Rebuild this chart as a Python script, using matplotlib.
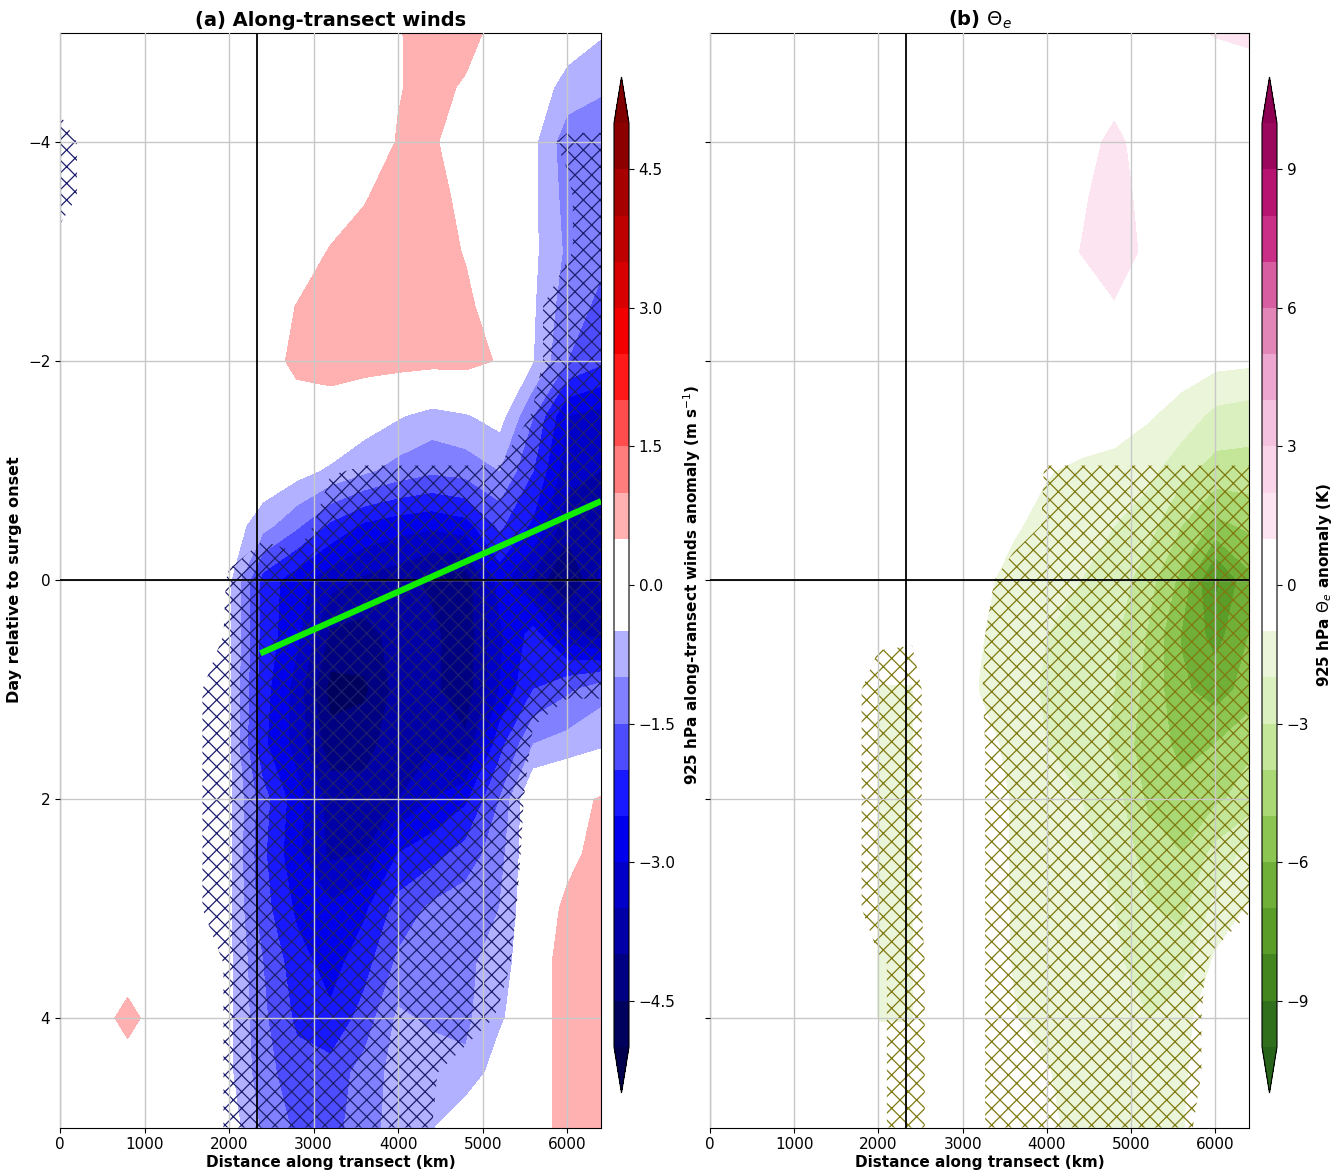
import numpy as np
import matplotlib
matplotlib.use("Agg")
import matplotlib.pyplot as plt
import matplotlib.colors as mcolors

# ---------------- data ----------------
dist_km = [0, 400, 800, 1200, 1600, 2000, 2400, 2800, 3200, 3600, 4000,
           4400, 4800, 5200, 5600, 6000, 6400]
day_rel = [-5, -4.5, -4, -3.5, -3, -2.5, -2, -1.5, -1, -0.5, 0,
           0.5, 1, 1.5, 2, 2.5, 3, 3.5, 4, 4.5, 5]

# 925 hPa along-transect wind anomaly (m s-1), rows = day_rel, cols = dist_km
wind_anom = [
    [0, 0, 0, 0, 0, 0, 0, 0, 0, 0.1, 0.45, 0.8, 0.8, 0.2, -0.1, -0.2, -0.45],
    [0, 0, 0, 0, 0, 0, 0, 0, 0, 0.1, 0.45, 0.75, 0.4, 0.0, -0.2, -0.7, -0.9],
    [0, 0, 0, 0, 0, 0, 0, 0, 0, 0, 0.55, 0.6, 0.1, -0.05, -0.4, -1.3, -1.5],
    [0, 0, 0, 0, 0, 0, 0, 0, 0.1, 0.45, 0.8, 0.75, 0.3, -0.05, -0.4, -1.2, -1.4],
    [0, 0, 0, 0, 0, 0, 0, 0.1, 0.55, 0.75, 0.8, 0.8, 0.45, 0, -0.4, -1.1, -1.4],
    [0, 0, 0, 0, 0, 0, 0.1, 0.52, 0.75, 0.8, 0.8, 0.75, 0.65, 0.1, -0.45, -1.3, -1.6],
    [0, 0, 0, 0, 0, 0, 0.2, 0.65, 0.75, 0.8, 0.75, 0.7, 0.7, 0.45, -0.5, -1.5, -1.9],
    [0, 0, 0, 0, 0, 0, 0, 0.2, 0.2, -0.2, -0.45, -0.7, -0.55, -0.3, -1.5, -3.0, -3.2],
    [0, 0, 0, 0, 0, 0, -0.1, -0.3, -0.6, -0.9, -1.2, -1.4, -1.3, -1.0, -2.0, -3.3, -3.5],
    [0, 0, 0, 0, 0, -0.2, -0.8, -1.4, -2.1, -2.6, -2.8, -2.9, -2.7, -1.9, -2.6, -3.8, -3.6],
    [0, 0, 0, 0, 0, -0.4, -2.2, -2.8, -3.3, -3.6, -3.8, -4.1, -4.3, -2.8, -3.6, -4.6, -3.4],
    [0, 0, 0, 0, 0, -0.4, -2.2, -2.9, -4.1, -4.2, -3.8, -3.9, -4.3, -3.1, -2.3, -3.3, -3.7],
    [0, 0, 0, 0, 0, -0.4, -2.3, -3.2, -4.7, -4.6, -3.8, -3.9, -4.3, -3.0, -2.0, -1.6, -1.2],
    [0, 0, 0, 0, 0, -0.4, -2.4, -3.2, -4.3, -4.2, -3.7, -3.6, -3.9, -2.2, -1.0, -0.8, -0.6],
    [0, 0, 0, 0, 0, -0.4, -1.8, -2.8, -3.7, -3.8, -3.5, -3.0, -2.6, -1.5, 0.1, 0.3, 0.55],
    [0, 0, 0, 0, 0, -0.4, -1.9, -2.9, -3.6, -3.5, -2.5, -2.2, -1.8, -1.2, 0, 0.3, 0.75],
    [0, 0, 0, 0, 0, -0.4, -1.8, -2.6, -2.9, -2.6, -1.8, -1.4, -1.2, -1.0, 0, 0.65, 0.8],
    [0, 0, 0, 0, 0, -0.4, -1.5, -2.3, -2.7, -2.2, -1.4, -1.0, -1.1, -0.8, 0, 0.9, 0.8],
    [0, 0, 0.8, 0, 0, -0.4, -1.4, -2.1, -2.4, -1.8, -0.9, -1.1, -1.1, -0.6, 0, 0.9, 0.8],
    [0, 0, 0, 0, 0, -0.4, -1.3, -1.8, -1.8, -1.3, -0.8, -0.7, -0.9, -0.2, 0, 0.9, 0.8],
    [0, 0, 0, 0, 0, -0.2, -1.1, -1.6, -1.7, -1.2, -0.8, -0.55, 0, 0, 0, 0.9, 0.8],
]

# significance of wind anomaly (>= 0.5 means significant)
wind_sig = [
    [0, 0, 0, 0, 0, 0, 0, 0, 0, 0, 0, 0, 0, 0, 0, 0, 0],
    [0, 0, 0, 0, 0, 0, 0, 0, 0, 0, 0, 0, 0, 0, 0, 0, 0],
    [1, 0, 0, 0, 0, 0, 0, 0, 0, 0, 0, 0, 0, 0, 0.3, 0.6, 0.6],
    [1, 0, 0, 0, 0, 0, 0, 0, 0, 0, 0, 0, 0, 0, 0, 0.4, 1],
    [0, 0, 0, 0, 0, 0, 0, 0, 0, 0, 0, 0, 0, 0, 0, 0.4, 1],
    [0, 0, 0, 0, 0, 0, 0, 0, 0, 0, 0, 0, 0, 0, 0.3, 1, 1],
    [0, 0, 0, 0, 0, 0, 0, 0, 0, 0, 0, 0, 0, 0, 0.3, 1, 1],
    [0, 0, 0, 0, 0, 0, 0, 0, 0, 0, 0, 0, 0, 0, 0.55, 1, 1],
    [0, 0, 0, 0, 0, 0, 0, 0, 0.45, 0.55, 0.55, 0.55, 0.55, 0.55, 1, 1, 1],
    [0, 0, 0, 0, 0, 0.3, 0.3, 0, 1, 1, 1, 1, 1, 1, 1, 1, 1],
    [0, 0, 0, 0, 0, 0.55, 1, 1, 1, 1, 1, 1, 1, 1, 1, 1, 1],
    [0, 0, 0, 0, 0, 0.6, 1, 1, 1, 1, 1, 1, 1, 1, 1, 1, 1],
    [0, 0, 0, 0, 0.365, 1, 1, 1, 1, 1, 1, 1, 1, 1, 0.6, 0.6, 0.6],
    [0, 0, 0, 0, 0.365, 1, 1, 1, 1, 1, 1, 1, 1, 1, 0.45, 0, 0],
    [0, 0, 0, 0, 0.365, 1, 1, 1, 1, 1, 1, 1, 1, 1, 0.3, 0, 0],
    [0, 0, 0, 0, 0.365, 1, 1, 1, 1, 1, 1, 1, 1, 1, 0.2, 0, 0],
    [0, 0, 0, 0, 0.365, 1, 1, 1, 1, 1, 1, 1, 1, 1, 0, 0, 0],
    [0, 0, 0, 0, 0, 0.6, 1, 1, 1, 1, 1, 1, 1, 0.75, 0, 0, 0],
    [0, 0, 0, 0, 0, 0.6, 1, 1, 1, 1, 1, 1, 1, 0.4, 0, 0, 0],
    [0, 0, 0, 0, 0, 0.6, 1, 1, 1, 1, 1, 0.6, 0, 0, 0, 0, 0],
    [0, 0, 0, 0, 0, 0.6, 1, 1, 1, 1, 1, 0.5, 0, 0, 0, 0, 0],
]

# 925 hPa theta-e anomaly (K)
theta_anom = [
    [0, 0, 0, 0, 0, 0, 0, 0, 0, 0, 0, 0, 0, 0, 0.6, 1.1, 1.4],
    [0, 0, 0, 0, 0, 0, 0, 0, 0, 0, 0, 0, 0.5, 0, 0, 0, 0],
    [0, 0, 0, 0, 0, 0, 0, 0, 0, 0, 0, 0.5, 1.3, 0.4, 0, 0, 0],
    [0, 0, 0, 0, 0, 0, 0, 0, 0, 0, 0, 0.8, 1.6, 0.5, 0, 0, 0],
    [0, 0, 0, 0, 0, 0, 0, 0, 0, 0, 0.2, 1.02, 1.7, 0.7, 0, 0, 0],
    [0, 0, 0, 0, 0, 0, 0, 0, 0, 0, 0, 0.5, 0.9, 0.3, 0, 0, 0],
    [0, 0, 0, 0, 0, 0, 0, 0, 0, 0, 0, 0, 0, 0, -0.5, -0.7, -0.8],
    [0, 0, 0, 0, 0, 0, 0, 0, 0, 0, 0, 0, -0.3, -0.9, -1.4, -2.3, -2.5],
    [0, 0, 0, 0, 0, 0, 0, 0, 0, -0.3, -0.9, -1.3, -1.5, -1.7, -2.7, -3.4, -3.4],
    [0, 0, 0, 0, 0, 0, 0, 0, -0.2, -0.8, -1.5, -1.7, -2.0, -2.6, -4.0, -5.3, -4.8],
    [0, 0, 0, 0, 0, 0, 0, -0.1, -0.6, -1.5, -1.8, -2.0, -2.4, -3.6, -5.3, -8.3, -6.3],
    [0, 0, 0, 0, 0, -0.5, -0.5, 0, -0.9, -1.6, -2.0, -2.1, -2.8, -4.1, -6.1, -7.4, -6.0],
    [0, 0, 0, 0, 0, -1.05, -1.05, 0, -1.05, -1.7, -2.1, -2.2, -3.0, -4.3, -5.8, -6.5, -5.6],
    [0, 0, 0, 0, 0, -1.05, -1.05, 0, -0.6, -1.3, -2.0, -2.2, -3.2, -4.6, -5.2, -5.0, -4.2],
    [0, 0, 0, 0, 0, -1.05, -1.05, 0, -0.3, -1.1, -1.7, -2.0, -2.6, -4.2, -4.8, -4.2, -3.6],
    [0, 0, 0, 0, 0, -1.05, -1.05, 0, -0.3, -1.1, -1.6, -1.8, -2.2, -3.5, -4.0, -2.7, -1.7],
    [0, 0, 0, 0, 0, -1.05, -1.05, 0, -0.3, -1.1, -1.5, -1.7, -2.0, -2.9, -3.3, -1.7, -0.9],
    [0, 0, 0, 0, 0, -1.05, -1.05, 0, -0.3, -1.05, -1.4, -1.6, -1.8, -2.5, -2.4, -0.8, -0.3],
    [0, 0, 0, 0, 0, -1.05, -1.05, 0, -0.2, -0.95, -1.3, -1.5, -1.6, -2.0, -1.4, -0.3, 0],
    [0, 0, 0, 0, 0, -0.5, -0.5, 0, -0.1, -0.5, -0.95, -1.4, -1.5, -1.6, -1.2, -0.2, 0],
    [0, 0, 0, 0, 0, 0, 0, 0, 0, -0.3, -0.8, -1.3, -1.4, -1.5, -1.1, -0.1, 0],
]

theta_sig = [
    [0, 0, 0, 0, 0, 0, 0, 0, 0, 0, 0, 0, 0, 0, 0, 0, 0],
    [0, 0, 0, 0, 0, 0, 0, 0, 0, 0, 0, 0, 0, 0, 0, 0, 0],
    [0, 0, 0, 0, 0, 0, 0, 0, 0, 0, 0, 0, 0, 0, 0, 0, 0],
    [0, 0, 0, 0, 0, 0, 0, 0, 0, 0, 0, 0, 0, 0, 0, 0, 0],
    [0, 0, 0, 0, 0, 0, 0, 0, 0, 0, 0, 0, 0, 0, 0, 0, 0],
    [0, 0, 0, 0, 0, 0, 0, 0, 0, 0, 0, 0, 0, 0, 0, 0, 0],
    [0, 0, 0, 0, 0, 0, 0, 0, 0, 0, 0, 0, 0, 0, 0, 0, 0],
    [0, 0, 0, 0, 0, 0, 0, 0, 0, 0, 0, 0, 0, 0, 0, 0, 0],
    [0, 0, 0, 0, 0, 0, 0, 0, 0, 0, 0.55, 0.55, 0.55, 0.55, 0.55, 0.55, 0.55],
    [0, 0, 0, 0, 0, 0, 0, 0, 0, 0, 0.6, 1, 1, 1, 1, 1, 1],
    [0, 0, 0, 0, 0, 0, 0, 0, 0.1, 1, 1, 1, 1, 1, 1, 1, 1],
    [0, 0, 0, 0, 0, 0.3, 0.45, 0, 0.4, 1, 1, 1, 1, 1, 1, 1, 1],
    [0, 0, 0, 0, 0, 1, 0.7, 0, 0.45, 1, 1, 1, 1, 1, 1, 1, 1],
    [0, 0, 0, 0, 0, 1, 0.7, 0, 0.4, 1, 1, 1, 1, 1, 1, 1, 1],
    [0, 0, 0, 0, 0, 1, 0.7, 0, 0.4, 1, 1, 1, 1, 1, 1, 1, 1],
    [0, 0, 0, 0, 0, 1, 0.7, 0, 0.4, 1, 1, 1, 1, 1, 1, 1, 1],
    [0, 0, 0, 0, 0, 1, 0.7, 0, 0.4, 1, 1, 1, 1, 1, 1, 1, 0.55],
    [0, 0, 0, 0, 0, 0.4, 0.8, 0, 0.4, 1, 1, 1, 1, 1, 1, 0.3, 0],
    [0, 0, 0, 0, 0, 0.4, 0.8, 0, 0.4, 1, 1, 1, 1, 1, 1, 0.15, 0],
    [0, 0, 0, 0, 0, 0.4, 0.8, 0, 0.4, 1, 1, 1, 1, 1, 1, 0.15, 0],
    [0, 0, 0, 0, 0, 0.4, 0.8, 0, 0.4, 1, 1, 1, 1, 1, 0.75, 0, 0],
]

onset_km = 2330
prop_line_km = [2370, 6400]
prop_line_day = [0.67, -0.72]

x_ticks = [0, 1000, 2000, 3000, 4000, 5000, 6000]
y_ticks = [-4, -2, 0, 2, 4]
wind_cb_ticks = [-4.5, -3.0, -1.5, 0.0, 1.5, 3.0, 4.5]
theta_cb_ticks = [-9, -6, -3, 0, 3, 6, 9]

# ---------------- figure ----------------
FS = 11
fig = plt.figure(figsize=(13.38, 11.74), dpi=100)

W, H = 1338.0, 1174.0
ax_top, ax_bot = 32.5, 1127.5
axa = fig.add_axes([60 / W, 1 - ax_bot / H, 541 / W, (ax_bot - ax_top) / H])
axb = fig.add_axes([710 / W, 1 - ax_bot / H, 539 / W, (ax_bot - ax_top) / H])
caxa = fig.add_axes([614 / W, 1 - 1093 / H, 15 / W, (1093 - 77) / H])
caxb = fig.add_axes([1262 / W, 1 - 1093 / H, 15 / W, (1093 - 77) / H])

X = np.array(dist_km, dtype=float)
Y = np.array(day_rel, dtype=float)


def band_colors(levels, cmap, white_half):
    levels = np.asarray(levels, dtype=float)
    vmin, vmax = levels[0], levels[-1]
    mids = 0.5 * (levels[:-1] + levels[1:])
    cols = []
    for m in mids:
        if abs(m) < white_half:
            cols.append((1, 1, 1, 1))
        else:
            cols.append(cmap((m - vmin) / (vmax - vmin)))
    return [cmap(0.0)] + cols + [cmap(1.0)]


wind_levels = np.linspace(-5, 5, 21)
theta_levels = np.linspace(-10, 10, 21)
wind_cols = band_colors(wind_levels, plt.get_cmap("seismic"), 0.5)
theta_cols = band_colors(theta_levels, plt.get_cmap("PiYG_r"), 1.0)


def hatch_layer(ax, field, color):
    with plt.rc_context({"hatch.color": color, "hatch.linewidth": 0.9}):
        cs = ax.contourf(X, Y, np.array(field, dtype=float), levels=[0.5, 1.5],
                         colors="none", hatches=["xx"], zorder=2)
    try:
        cs._hatch_color = mcolors.to_rgba(color)
    except Exception:
        pass
    return cs


def style_axis(ax, title, show_y):
    ax.set_xlim(0, 6400)
    ax.set_ylim(5, -5)
    ax.set_xticks(x_ticks)
    ax.set_yticks(y_ticks)
    ax.grid(True, color="#c8c8c8", linewidth=1.0)
    ax.set_axisbelow(False)
    ax.tick_params(labelsize=FS)
    if not show_y:
        ax.tick_params(labelleft=False)
    ax.set_xlabel("Distance along transect (km)", fontsize=FS, fontweight="bold",
                  labelpad=2)
    ax.set_title(title, fontsize=14, fontweight="bold", pad=5)
    ax.axvline(onset_km, color="black", linewidth=1.3, zorder=4)
    ax.axhline(0, color="black", linewidth=1.3, zorder=4)


# panel (a)
cfa = axa.contourf(X, Y, np.array(wind_anom, dtype=float), levels=wind_levels,
                   colors=wind_cols, extend="both", zorder=1)
hatch_layer(axa, wind_sig, "#1e1e6e")
axa.plot(prop_line_km, prop_line_day, color="#11ee00", linewidth=4.5,
         solid_capstyle="butt", zorder=5)
style_axis(axa, "(a) Along-transect winds", True)
axa.set_ylabel("Day relative to surge onset", fontsize=FS + 0.5, fontweight="bold")

# panel (b)
cfb = axb.contourf(X, Y, np.array(theta_anom, dtype=float), levels=theta_levels,
                   colors=theta_cols, extend="both", zorder=1)
hatch_layer(axb, theta_sig, "#7f7a10")
style_axis(axb, r"(b) $\Theta_e$", False)

# colorbars
cba = fig.colorbar(cfa, cax=caxa, ticks=wind_cb_ticks)
cba.ax.tick_params(labelsize=FS)
cba.set_label(r"925 hPa along-transect winds anomaly (m s$^{-1}$)", fontsize=FS,
              fontweight="bold")
cbb = fig.colorbar(cfb, cax=caxb, ticks=theta_cb_ticks)
cbb.ax.tick_params(labelsize=FS)
cbb.set_label(r"925 hPa $\Theta_e$ anomaly (K)", fontsize=FS, fontweight="bold")

fig.savefig("out.png", dpi=100)
